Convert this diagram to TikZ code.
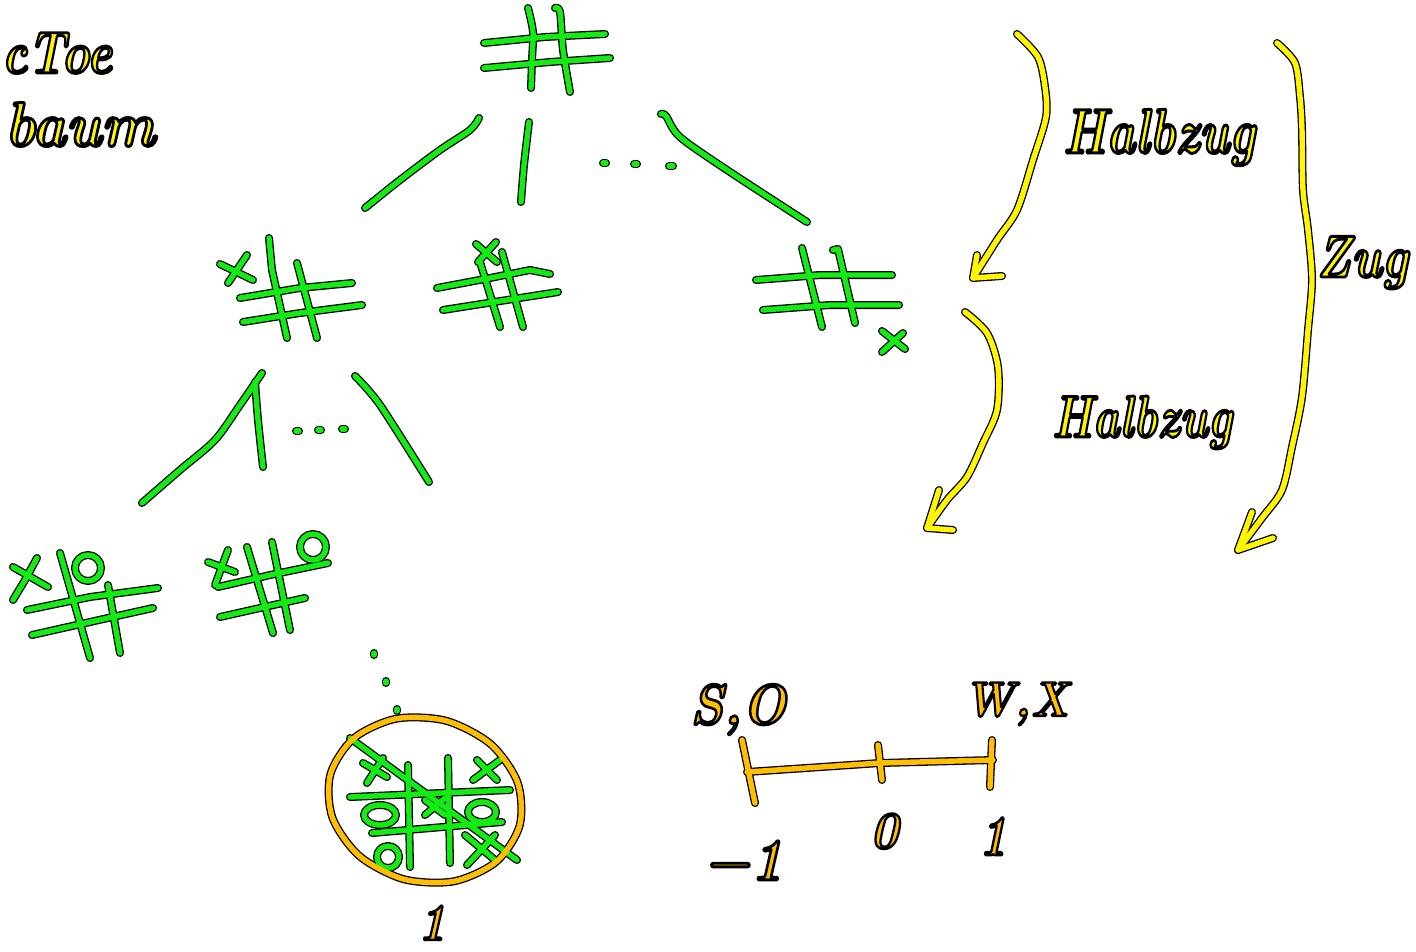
\documentclass[tikz,border=0pt]{standalone}
\usepackage{fontspec}
\pgfdeclarelayer{bg}
\pgfdeclarelayer{outl}
\pgfsetlayers{bg,outl,main}
\definecolor{grn}{RGB}{20,235,20}
\definecolor{ylw}{RGB}{255,245,0}
\definecolor{org}{RGB}{255,190,0}
\tikzset{
  penout/.style={draw=black,line width=8pt,line cap=round,line join=round},
  penin/.style={draw=#1,line width=5.4pt,line cap=round,line join=round},
  hw/.style={inner sep=0pt,outer sep=0pt}
}
\newcommand\pen[2]{\begin{pgfonlayer}{outl}\draw[penout] #2;\end{pgfonlayer}\draw[penin=#1] #2;}
% outlined text: fill in current colour, stroke black
\newcommand\outl[1]{\special{pdf:literal direct 2 Tr 1 j 2.4 w 0 0 0 RG}#1\special{pdf:literal direct 0 Tr}}
% width, vertical stretch, text
\newcommand\hw[3]{\scalebox{1}[#2]{\resizebox{#1}{!}{\fontsize{50}{50}\selectfont\bfseries\itshape\outl{#3}}}}
\begin{document}
\begin{tikzpicture}[x=1pt,y=-1pt]
\begin{pgfonlayer}{bg}
\fill[white] (0,0) rectangle (1416,951);
\end{pgfonlayer}
\useasboundingbox (0,0) rectangle (1416,951);

% ---- texts
\node[hw,text=ylw,anchor=base east] (title) at (112,73) {\hw{110pt}{1.25}{cToe}};
\node[hw,text=ylw,anchor=base east] (tree) at (155,146) {\hw{150pt}{1.1}{baum}};
\node[hw,text=ylw,anchor=base west] (hz1) at (1063,153) {\hw{192pt}{1.3}{Halbzug}};
\node[hw,text=ylw,anchor=base west] (hz2) at (1052,437) {\hw{180pt}{1.3}{Halbzug}};
\node[hw,text=ylw,anchor=base west] (zug) at (1316,277) {\hw{92pt}{1.2}{Zug}};
\node[hw,text=org,anchor=base west] (so) at (690,724) {\hw{96pt}{1.1}{S,O}};
\node[hw,text=org,anchor=base west] (wx) at (963,716) {\hw{106pt}{1.1}{W,X}};
\node[hw,text=org,anchor=base west] (mone) at (703,880) {\hw{80pt}{1.1}{−1}};
\node[hw,text=org,anchor=base] (zero) at (884,848) {\hw{28pt}{1.1}{0}};
\node[hw,text=org,anchor=base] (one) at (993,855) {\hw{28pt}{1.2}{1}};
\node[hw,text=org,anchor=base] (leaf) at (432,940) {\hw{28pt}{1.1}{1}};

% ---- root board
\pen{grn}{plot[smooth] coordinates {(528,8)(533,32)(532,60)(531,88)}}
\pen{grn}{plot[smooth] coordinates {(555,8)(560,12)(563,50)(570,92)}}
\pen{grn}{(484,43) -- (545,37) -- (605,34)}
\pen{grn}{(484,68) -- (550,62) -- (610,58)}

% ---- edges from root
\pen{grn}{plot[smooth] coordinates {(479,118)(470,130)(440,150)(400,180)(365,208)}}
\pen{grn}{plot[smooth] coordinates {(529,122)(524,165)(521,202)}}
\pen{grn}{(603,163) -- (606,163)}
\pen{grn}{(634,164) -- (637,164)}
\pen{grn}{(669,166) -- (673,166)}
\pen{grn}{plot[smooth] coordinates {(661,114)(666,116)(680,137)(727,170)(807,222)}}

% ---- board A
\pen{grn}{(269,238) -- (272,270) -- (287,338)}
\pen{grn}{(297,263) -- (317,338)}
\pen{grn}{(240,298) -- (300,288) -- (352,283)}
\pen{grn}{(243,322) -- (300,313) -- (362,305)}
\pen{grn}{(220,264) -- (253,280)}
\pen{grn}{(247,255) -- (228,283)}

% ---- board B
\pen{grn}{(437,288) -- (490,278) -- (530,270) -- (550,274)}
\pen{grn}{(443,310) -- (558,292)}
\pen{grn}{(480,262) -- (500,327)}
\pen{grn}{(502,252) -- (523,327)}
\pen{grn}{(476,244) -- (497,262)}
\pen{grn}{(496,242) -- (478,262)}

% ---- board C
\pen{grn}{(756,280) -- (820,275) -- (892,275)}
\pen{grn}{(763,310) -- (830,305) -- (899,305)}
\pen{grn}{(802,248) -- (822,327)}
\pen{grn}{(833,250) -- (838,249) -- (855,323)}
\pen{grn}{(882,331) -- (905,349)}
\pen{grn}{(903,333) -- (882,352)}

% ---- edges from board A
\pen{grn}{plot[smooth] coordinates {(142,503)(180,470)(215,440)(240,405)(262,373)}}
\pen{grn}{plot[smooth] coordinates {(255,382)(258,420)(263,467)}}
\pen{grn}{(296,431) -- (299,431)}
\pen{grn}{(318,430) -- (321,430)}
\pen{grn}{(342,429) -- (345,429)}
\pen{grn}{plot[smooth] coordinates {(355,376)(380,405)(429,482)}}

% ---- board D
\pen{grn}{(13,567) -- (48,587)}
\pen{grn}{(37,558) -- (25,580) -- (13,600)}
\pen{grn}{(60,553) -- (90,658)}
\pen{grn}{(88,568) circle[radius=13]}
\pen{grn}{(108,585) -- (120,653)}
\pen{grn}{(27,610) -- (90,597) -- (158,588)}
\pen{grn}{(32,635) -- (90,622) -- (153,608)}

% ---- board E
\pen{grn}{(208,562) -- (235,572)}
\pen{grn}{(228,550) -- (215,585)}
\pen{grn}{(247,547) -- (273,633)}
\pen{grn}{(272,542) -- (290,630)}
\pen{grn}{(313,547) circle[radius=13]}
\pen{grn}{(218,587) -- (270,575) -- (328,563)}
\pen{grn}{(220,617) -- (260,608) -- (305,598)}

% ---- dots down
\pen{grn}{(374,653) -- (374,655)}
\pen{grn}{(386,681) -- (386,683)}
\pen{grn}{(397,709) -- (397,711)}

% ---- final board
\pen{grn}{(350,738) -- (517,860)}
\pen{grn}{(350,797) -- (510,790)}
\pen{grn}{(372,833) -- (502,822)}
\pen{grn}{(408,765) -- (410,867)}
\pen{grn}{(448,758) -- (450,863)}
\pen{grn}{(363,763) -- (387,777)}
\pen{grn}{(383,758) -- (367,783)}
\pen{grn}{(473,780) -- (500,760)}
\pen{grn}{(477,760) -- (497,780)}
\pen{grn}{(380,815) ellipse[x radius=16,y radius=10]}
\pen{grn}{(425,800) -- (445,815)}
\pen{grn}{(445,798) -- (425,815)}
\pen{grn}{(482,812) ellipse[x radius=14,y radius=10]}
\pen{grn}{(465,835) -- (495,860)}
\pen{grn}{(495,835) -- (467,865)}
\pen{grn}{(388,857) circle[radius=11]}
\pen{org}{plot[smooth cycle] coordinates {(519.7,825.4)(496.4,861.6)(453.9,881.3)(403.8,879.2)(359.3,855.9)(332.4,817.6)(330.3,774.6)(353.6,738.4)(396.1,718.7)(446.2,720.8)(490.7,744.1)(517.6,782.4)}}

% ---- value scale
\pen{org}{(742,740) -- (755,803)}
\pen{org}{(747,772) -- (880,763) -- (993,760)}
\pen{org}{(878,745) -- (882,780)}
\pen{org}{(992,740) -- (990,787)}

% ---- braces with arrows
\pen{ylw}{plot[smooth] coordinates {(1017,34)(1038,57)(1045,87)(1046,117)(1033,160)(1017,210)(997,240)(973,278)}}
\pen{ylw}{(977,255) -- (973,278) -- (1002,276)}
\pen{ylw}{plot[smooth] coordinates {(965,312)(987,333)(998,367)(997,410)(983,443)(967,477)(947,500)(927,528)}}
\pen{ylw}{(939,490) -- (927,528) -- (953,530)}
\pen{ylw}{plot[smooth] coordinates {(1277,43)(1295,63)(1300,97)(1302,130)(1303,190)(1308,230)(1312,280)(1308,330)(1302,397)(1292,447)(1282,490)(1262,518)(1238,550)}}
\pen{ylw}{(1252,512) -- (1238,550) -- (1273,538)}
\end{tikzpicture}
\end{document}
